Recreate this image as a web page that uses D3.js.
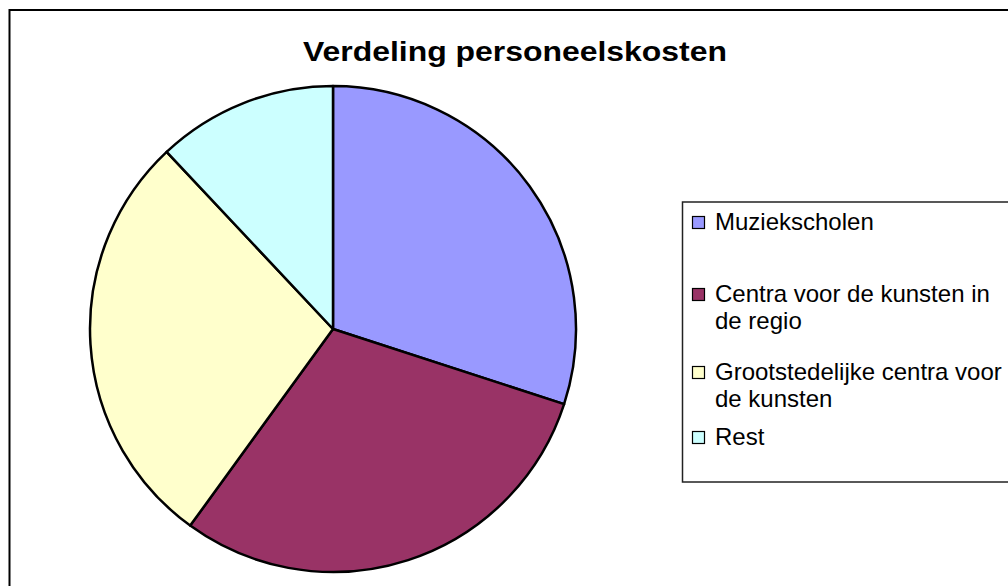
<!DOCTYPE html>
<html>
<head>
<meta charset="utf-8">
<script src="https://cdn.jsdelivr.net/npm/d3@7"></script>
<style>
    body { margin: 0; background: #fff; }
    text { font-family: "Liberation Sans", Arial, sans-serif; }
</style>
</head>
<body>
<script>
// chart data
var categories = ["Muziekscholen", "Centra voor de kunsten in de regio", "Grootstedelijke centra voor de kunsten", "Rest"];
var values = [30, 30, 28, 12];
var colors = ["#9999FF", "#993366", "#FFFFCC", "#CCFFFF"];
// how the legend wraps each category
var legendLines = [
    ["Muziekscholen"],
    ["Centra voor de kunsten in", "de regio"],
    ["Grootstedelijke centra voor", "de kunsten"],
    ["Rest"]
];

window.onload = function () {

    var w = 1008, h = 586;

    var svg = d3.select("body")
        .append("svg")
        .attr("width", w)
        .attr("height", h);

    //outer chart border
    svg.append("rect")
        .attr("x", 9.5)
        .attr("y", 10)
        .attr("width", 1100)
        .attr("height", 700)
        .style("fill", "#fff")
        .style("stroke", "#000")
        .style("stroke-width", 2);

    //title
    svg.append("text")
        .attr("x", 303)
        .attr("y", 61)
        .attr("textLength", 424)
        .attr("lengthAdjust", "spacingAndGlyphs")
        .style("font-size", "27px")
        .style("font-weight", "bold")
        .text("Verdeling personeelskosten");

    //pie
    var cx = 333, cy = 329, r = 243;

    var pie = d3.pie()
        .sort(null)
        .value(function(d) { return d; });

    var arc = d3.arc()
        .innerRadius(0)
        .outerRadius(r);

    svg.append("g")
        .attr("transform", "translate(" + cx + "," + cy + ")")
        .selectAll(".slice")
        .data(pie(values))
        .enter()
        .append("path")
        .attr("class", "slice")
        .attr("d", arc)
        .style("fill", function(d, i) { return colors[i]; })
        .style("stroke", "#000")
        .style("stroke-width", 2.5)
        .style("stroke-linejoin", "round");

    //legend box
    svg.append("rect")
        .attr("x", 682.5)
        .attr("y", 202)
        .attr("width", 400)
        .attr("height", 280)
        .style("fill", "#fff")
        .style("stroke", "#222")
        .style("stroke-width", 1.5);

    //baseline of first line of each entry
    var entryY = [230, 302, 380, 445];
    var lineH = 27;

    var entries = svg.selectAll(".entry")
        .data(categories)
        .enter()
        .append("g")
        .attr("class", "entry")
        .attr("transform", function(d, i) { return "translate(692," + entryY[i] + ")"; });

    entries.append("rect")
        .attr("x", 0.5)
        .attr("y", -13.5)
        .attr("width", 12)
        .attr("height", 12)
        .style("fill", function(d, i) { return colors[i]; })
        .style("stroke", "#000")
        .style("stroke-width", 1.2);

    entries.append("text")
        .style("font-size", "24px")
        .style("fill", "#000")
        .selectAll("tspan")
        .data(function(d, i) { return legendLines[i]; })
        .enter()
        .append("tspan")
        .attr("x", 23)
        .attr("y", function(d, j) { return j * lineH; })
        .text(function(d) { return d; });

};
</script>
</body>
</html>
